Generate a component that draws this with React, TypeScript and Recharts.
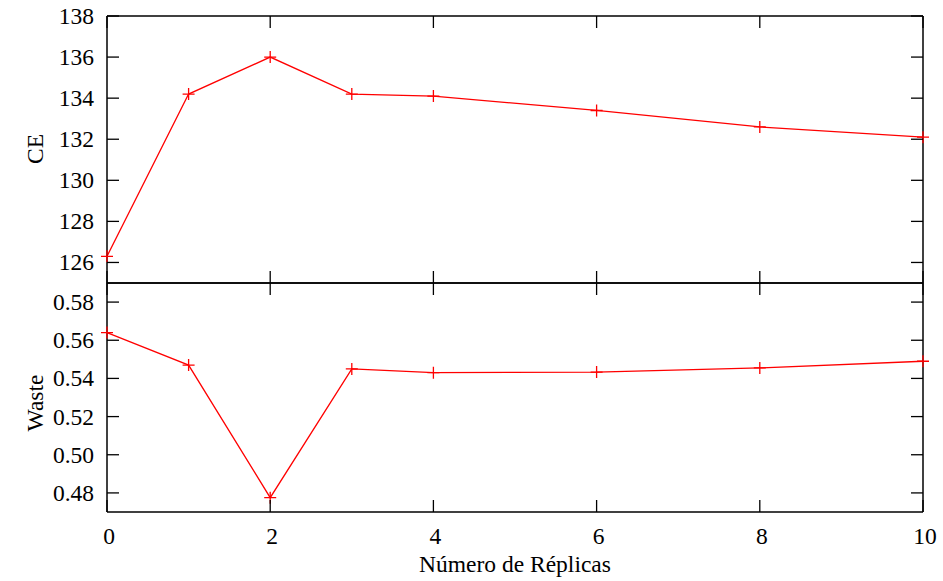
import React from 'react';
import { LineChart, Line, XAxis, YAxis } from 'recharts';

const replicas = [0, 1, 2, 3, 4, 6, 8, 10];
const ceValues = [126.3, 134.2, 136.0, 134.2, 134.1, 133.4, 132.6, 132.1];
const wasteValues = [0.564, 0.547, 0.4775, 0.545, 0.543, 0.5433, 0.5455, 0.549];
const xTicks = [0, 2, 4, 6, 8, 10];
const ceTicks = [126, 128, 130, 132, 134, 136, 138];
const wasteTicks = [0.48, 0.5, 0.52, 0.54, 0.56, 0.58];

const data = replicas.map((r, i) => ({ r, ce: ceValues[i], waste: wasteValues[i] }));

const FONT = '"Liberation Serif", "Times New Roman", serif';
const FS = 23.5;
const TL = 12;
const AX = { stroke: '#000', strokeWidth: 1.5 };

const PlusDot = (props: any) => {
  const { cx, cy, index } = props;
  if (cx == null || cy == null) return null;
  return (
    <path
      key={`d${index}`}
      d={`M${cx - 6},${cy}H${cx + 6}M${cx},${cy - 6}V${cy + 6}`}
      stroke="#ff0000"
      strokeWidth={1.3}
      fill="none"
    />
  );
};

const leftTick = (fmt: (v: number) => string) => (props: any) => {
  const { x, y, payload } = props;
  return (
    <g>
      <line x1={x} x2={x + TL} y1={y} y2={y} stroke="#000" strokeWidth={1.3} />
      <text x={x - 13} y={y} textAnchor="end" dominantBaseline="central" style={{ fontFamily: FONT, fontSize: FS }} fill="#000">
        {fmt(payload.value)}
      </text>
    </g>
  );
};

const rightTick = (props: any) => {
  const { x, y } = props;
  return <line x1={x - TL} x2={x} y1={y} y2={y} stroke="#000" strokeWidth={1.3} />;
};

const topTick = (props: any) => {
  const { x, y } = props;
  return <line x1={x} x2={x} y1={y} y2={y + TL} stroke="#000" strokeWidth={1.3} />;
};

const upTick = (props: any) => {
  const { x, y } = props;
  return <line x1={x} x2={x} y1={y - TL} y2={y} stroke="#000" strokeWidth={1.3} />;
};

const bottomTick = (props: any) => {
  const { x, y, payload } = props;
  return (
    <g>
      <line x1={x} x2={x} y1={y - TL} y2={y} stroke="#000" strokeWidth={1.3} />
      <text x={x + 2} y={y + 24} textAnchor="middle" dominantBaseline="central" style={{ fontFamily: FONT, fontSize: FS }} fill="#000">
        {payload.value}
      </text>
    </g>
  );
};

const yLabel = (text: string, cx: number, cy: number) => () => (
  <text
    x={cx}
    y={cy}
    transform={`rotate(-90 ${cx} ${cy})`}
    textAnchor="middle"
    dominantBaseline="central"
    style={{ fontFamily: FONT, fontSize: FS }}
    fill="#000"
  >
    {text}
  </text>
);

const xLabel = () => (
  <text x={515} y={282} textAnchor="middle" dominantBaseline="central" style={{ fontFamily: FONT, fontSize: FS }} fill="#000">
    Número de Réplicas
  </text>
);

export default function App() {
  return (
    <div style={{ position: 'absolute', left: 0, top: 0, width: 943, height: 581, background: '#fff' }}>
      <div style={{ position: 'absolute', left: 0, top: 0 }}>
        <LineChart width={943} height={284} data={data} margin={{ top: 15, right: 0, bottom: 0, left: 0 }}>
          <XAxis xAxisId="t" dataKey="r" type="number" domain={[0, 10]} ticks={xTicks} orientation="top" height={1}
            axisLine={AX} tickLine={false} tickSize={0} tickMargin={0} tick={topTick} />
          <XAxis xAxisId="b" dataKey="r" type="number" domain={[0, 10]} ticks={xTicks} orientation="bottom" height={1}
            axisLine={AX} tickLine={false} tickSize={0} tickMargin={0} tick={upTick} />
          <YAxis yAxisId="l" type="number" domain={[125, 138]} ticks={ceTicks} width={107} allowDataOverflow
            axisLine={AX} tickLine={false} tickSize={0} tickMargin={0} tick={leftTick((v) => String(v))}
            label={{ content: yLabel('CE', 35, 149) }} />
          <YAxis yAxisId="r" orientation="right" type="number" domain={[125, 138]} ticks={ceTicks} width={20} allowDataOverflow
            axisLine={AX} tickLine={false} tickSize={0} tickMargin={0} tick={rightTick} />
          <Line xAxisId="t" yAxisId="l" dataKey="ce" type="linear" stroke="#ff0000" strokeWidth={1.3}
            dot={PlusDot} activeDot={false} isAnimationActive={false} />
        </LineChart>
      </div>
      <div style={{ position: 'absolute', left: 0, top: 282 }}>
        <LineChart width={943} height={299} data={data} margin={{ top: 0, right: 0, bottom: 0, left: 0 }}>
          <XAxis xAxisId="t" dataKey="r" type="number" domain={[0, 10]} ticks={xTicks} orientation="top" height={1}
            axisLine={AX} tickLine={false} tickSize={0} tickMargin={0} tick={topTick} />
          <XAxis xAxisId="b" dataKey="r" type="number" domain={[0, 10]} ticks={xTicks} orientation="bottom" height={69}
            axisLine={AX} tickLine={false} tickSize={0} tickMargin={0} tick={bottomTick}
            label={{ content: xLabel }} />
          <YAxis yAxisId="l" type="number" domain={[0.47, 0.59]} ticks={wasteTicks} width={107} allowDataOverflow
            axisLine={AX} tickLine={false} tickSize={0} tickMargin={0} tick={leftTick((v) => v.toFixed(2))}
            label={{ content: yLabel('Waste', 35, 121) }} />
          <YAxis yAxisId="r" orientation="right" type="number" domain={[0.47, 0.59]} ticks={wasteTicks} width={20} allowDataOverflow
            axisLine={AX} tickLine={false} tickSize={0} tickMargin={0} tick={rightTick} />
          <Line xAxisId="b" yAxisId="l" dataKey="waste" type="linear" stroke="#ff0000" strokeWidth={1.3}
            dot={PlusDot} activeDot={false} isAnimationActive={false} />
        </LineChart>
      </div>
    </div>
  );
}
